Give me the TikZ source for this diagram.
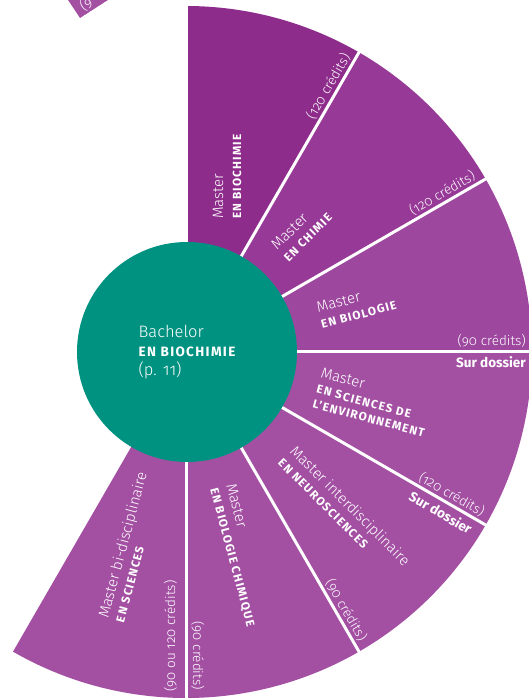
\documentclass[tikz,border=0pt]{standalone}
\usepackage{fontspec}
\setmainfont{Fira Sans}[UprightFont=* Light, BoldFont=* Bold, Numbers=OldStyle]
\definecolor{pmA}{RGB}{142,44,140}
\definecolor{pmB}{RGB}{151,57,151}
\definecolor{pmC}{RGB}{157,71,159}
\definecolor{pmD}{RGB}{163,80,163}
\definecolor{bachteal}{RGB}{0,146,128}
\newcommand\mfont{\fontsize{15}{17}\selectfont}
\newcommand\cfont{\fontsize{13.5}{15}\selectfont}
\newcommand\efont{\fontsize{11.8}{14}\selectfont\bfseries\addfontfeature{LetterSpace=10}}

\begin{document}
\begin{tikzpicture}[
    x=1pt, y=1pt,
    sep/.style={white, line width=3pt},
    ms/.style={anchor=base west, inner sep=0, text=white, font=\mfont},
    en/.style={anchor=base west, inner sep=0, text=white, font=\efont},
    cr/.style={anchor=base east, inner sep=0, text=white, font=\cfont},
    sd/.style={anchor=base east, inner sep=0, text=white,
        font=\cfont\bfseries}
  ]
  \useasboundingbox (-186,-348) rectangle (343,352);

  \foreach \a/\b/\c in {60/90/pmA, 30/60/pmB, 0/30/pmC, -30/0/pmD,
      -60/-30/pmD, -90/-60/pmD, -120/-90/pmD}
    \fill[\c] (0,0) -- (\a:346) arc[start angle=\a, end angle=\b,
      radius=346] -- cycle;
  \foreach \a in {90,60,...,-90}
    \draw[sep] (0,0) -- (\a:350);

  % piece of the next chart
  \begin{scope}
    \clip (-118,352) -- (-106,334) -- (-78,352) -- cycle;
    \fill[pmD] (-118,352) -- (-106,334) -- (-78,352) -- cycle;
    \node[text=white, font=\cfont, rotate=33, inner sep=0] (frag)
      at (-100,348) {(9};
  \end{scope}

  \node[circle, fill=bachteal, minimum size=220pt, inner sep=0,
    text=white, align=left, font=\fontsize{16.5}{19}\selectfont]
    (bach) at (1,0)
    {Bachelor\\
     {\fontsize{13.5}{19}\selectfont\bfseries
      \addfontfeature{LetterSpace=10}EN BIOCHIMIE}\\
     (p. 11)};

  \begin{scope}[shift={(37,133)}, rotate=90, transform shape]
    \node[ms] (m1) at (0,0) {Master};
    \node[en] (e1) at (0,-18) {EN BIOCHIMIE};
  \end{scope}
  \begin{scope}[shift={(91,101)}, rotate=45, transform shape]
    \node[ms] (m2) at (0,0) {Master};
    \node[en] (e2) at (0,-16.5) {EN CHIMIE};
  \end{scope}
  \begin{scope}[shift={(132,39)}, rotate=15, transform shape]
    \node[ms] (m3) at (0,0) {Master};
    \node[en] (e3) at (0,-16.5) {EN BIOLOGIE};
  \end{scope}
  \begin{scope}[shift={(134,-25)}, rotate=-15, transform shape]
    \node[ms] (m4) at (0,0) {Master};
    \node[en] (e4) at (0,-16.5) {EN SCIENCES DE};
    \node[en] (f4) at (0,-31.5) {L’ENVIRONNEMENT};
  \end{scope}
  \begin{scope}[shift={(103,-100)}, rotate=-45, transform shape]
    \node[ms] (m5) at (0,0) {Master interdisciplinaire};
    \node[en] (e5) at (0,-16.5) {EN NEUROSCIENCES};
  \end{scope}
  \begin{scope}[shift={(40,-133)}, rotate=-75, transform shape]
    \node[ms] (m6) at (0,0) {Master};
    \node[en] (e6) at (0,-16.5) {EN BIOLOGIE CHIMIQUE};
  \end{scope}
  \begin{scope}[shift={(-78,-267)}, rotate=75, transform shape]
    \node[ms] (m7) at (0,0) {Master bi-disciplinaire};
    \node[en] (e7) at (0,-16.5) {EN SCIENCES};
  \end{scope}

  \begin{scope}[rotate=60, transform shape]
    \node[cr] (c1) at (338,5) {(120 crédits)};
  \end{scope}
  \begin{scope}[rotate=30, transform shape]
    \node[cr] (c2) at (338,5) {(120 crédits)};
  \end{scope}
  \node[cr] (c3) at (340,6) {(90 crédits)};
  \node[sd] (d3) at (340,-16) {Sur dossier};
  \begin{scope}[rotate=-30, transform shape]
    \node[cr] (c4) at (338,5) {(120 crédits)};
    \node[sd] (d4) at (336,-17) {Sur dossier};
  \end{scope}
  \begin{scope}[rotate=-60, transform shape]
    \node[cr] (c5) at (338,5) {(90 crédits)};
  \end{scope}
  \begin{scope}[rotate=-90, transform shape]
    \node[cr] (c6) at (338,7) {(90 crédits)};
  \end{scope}
  \node[cr, anchor=base west, rotate=90] (c7) at (-11,-340)
    {(90 ou 120 crédits)};
\end{tikzpicture}
\end{document}
